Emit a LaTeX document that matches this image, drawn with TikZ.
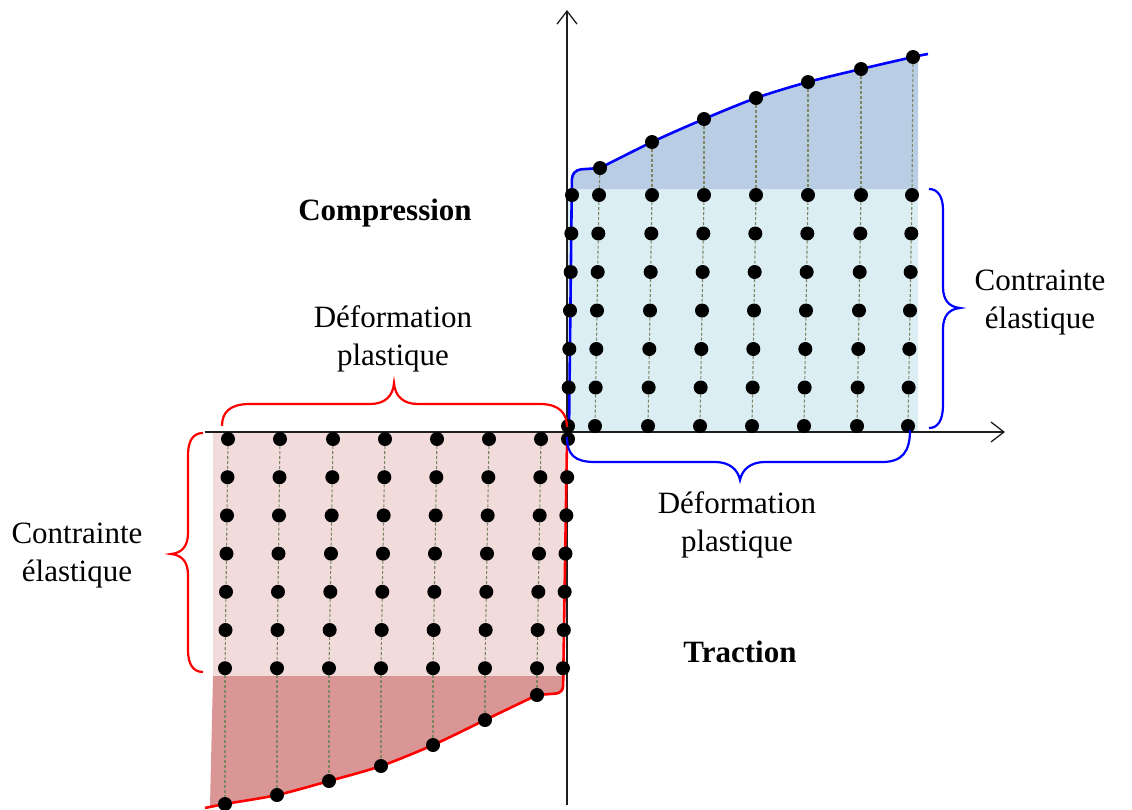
\documentclass[tikz,border=0pt]{standalone}
\usepackage{fontspec}
\setmainfont{Liberation Serif}
\usetikzlibrary{arrows.meta}
\definecolor{lightblue}{RGB}{219,238,243}
\definecolor{darkblue}{RGB}{185,205,229}
\definecolor{lightpink}{RGB}{242,220,219}
\definecolor{darkpink}{RGB}{217,150,148}
\definecolor{guidecol}{RGB}{125,135,100}
\definecolor{axiscol}{RGB}{30,30,30}
\tikzset{
  dot/.style={circle,fill=black,inner sep=0pt,minimum size=14pt},
  guide/.style={draw=guidecol,line width=1.1pt,dash pattern=on 3pt off 2pt},
  axis/.style={draw=axiscol,line width=1.3pt,-{Straight Barb[length=13pt,width=20pt,line width=1.3pt]}},
  bluecurve/.style={draw=blue,line width=2.6pt},
  redcurve/.style={draw=red,line width=2.6pt},
  bluebrace/.style={draw=blue,line width=2.2pt},
  redbrace/.style={draw=red,line width=2.2pt},
  lbl/.style={font=\fontsize{31}{38}\selectfont,align=center,inner sep=0pt},
  blbl/.style={font=\fontsize{31}{38}\selectfont\bfseries,align=center,inner sep=0pt},
}
\begin{document}
\begin{tikzpicture}[x=1pt,y=-1pt]
\useasboundingbox (0,0) rectangle (1132,809);
% ---- fills
\fill[lightblue] (567,188) rectangle (918,432);
\fill[darkblue] (572,189) -- (572,172) -- plot[smooth] coordinates {(600,168) (652,142) (704,119) (756,98) (808,82) (861,69) (918,56)} -- (918,189) -- cycle;
\fill[lightpink] (213,432) rectangle (565,676);
\fill[darkpink] (213,676) -- (564,676) -- (563,692) -- plot[smooth] coordinates {(537,695) (485,720) (433,745) (381,766) (329,781) (277,795) (225,804) (210,806)} -- cycle;
% ---- axes
\coordinate (ybot) at (567,805);
\coordinate (ytop) at (567,10);
\coordinate (xleft) at (205,432);
\coordinate (xright) at (1005,432);
\draw[axis] (ybot) -- (ytop);
\draw[axis] (xleft) -- (xright);
% ---- curves
\draw[bluecurve,rounded corners=9pt] (569,432) -- (572,170) -- (600,168);
\draw[bluecurve] plot[smooth] coordinates {(600,168) (652,142) (704,119) (756,98) (808,82) (861,69) (913,57) (928,54)};
\draw[redcurve,rounded corners=7pt] (567,440) -- (563,693) -- (537,695);
\draw[redcurve] plot[smooth] coordinates {(537,695) (485,720) (433,745) (381,766) (329,781) (277,795) (225,804) (205,808)};
% ---- right (compression) dots
\foreach \c/\xt/\xb in {1/572/568,2/599/595,3/652/648,4/704/700,5/756/752,6/808/804,7/861/857,8/912/908}{
  \foreach \r in {1,...,7}{
    \pgfmathsetmacro\yy{195+38.5*(\r-1)}
    \pgfmathsetmacro\xx{\xt+(\xb-\xt)*(\r-1)/6}
    \node[dot] (R-\c-\r) at (\xx,\yy) {};
  }
}
\foreach \c/\x/\y in {2/600/168,3/652/142,4/704/119,5/756/98,6/808/82,7/861/69,8/913/57}{
  \node[dot] (RC-\c) at (\x,\y) {};
}
\foreach \c in {2,...,8}{
  \draw[guide] (RC-\c) -- (R-\c-1);
  \foreach \r [evaluate=\r as \rn using int(\r+1)] in {1,...,6}{
    \draw[guide] (R-\c-\r) -- (R-\c-\rn);
  }
}
% ---- left (traction) dots
\foreach \c/\xt/\xb in {1/228/225,2/280/277,3/333/329,4/385/381,5/437/433,6/489/485,7/541/537,8/568/563}{
  \foreach \r in {1,...,7}{
    \pgfmathsetmacro\yy{439+38.2*(\r-1)}
    \pgfmathsetmacro\xx{\xt+(\xb-\xt)*(\r-1)/6}
    \node[dot] (L-\c-\r) at (\xx,\yy) {};
  }
}
\foreach \c/\x/\y in {1/225/804,2/277/795,3/329/781,4/381/766,5/433/745,6/485/720,7/537/695}{
  \node[dot] (LC-\c) at (\x,\y) {};
}
\foreach \c in {1,...,7}{
  \draw[guide] (L-\c-7) -- (LC-\c);
  \foreach \r [evaluate=\r as \rn using int(\r+1)] in {1,...,6}{
    \draw[guide] (L-\c-\r) -- (L-\c-\rn);
  }
}
% ---- braces
\draw[redbrace] (222,426) .. controls (222,412) and (230,404) .. (250,404) -- (370,404) .. controls (385,404) and (393,396) .. (394,383) .. controls (395,396) and (403,404) .. (418,404) -- (540,404) .. controls (560,404) and (567,414) .. (567,427);
\draw[redbrace] (203,433) .. controls (193,433) and (188,441) .. (188,455) -- (188,533) .. controls (188,546) and (182,553) .. (171,554) .. controls (182,555) and (188,562) .. (188,575) -- (188,650) .. controls (188,664) and (193,672) .. (203,672);
\draw[bluebrace] (929,189) .. controls (938,189) and (943,197) .. (943,210) -- (943,287) .. controls (943,300) and (949,307) .. (960,308) .. controls (949,309) and (943,316) .. (943,329) -- (943,405) .. controls (943,420) and (938,428) .. (929,428);
\draw[bluebrace] (567,437) .. controls (567,455) and (575,462) .. (595,462) -- (715,462) .. controls (730,462) and (738,470) .. (740,480) .. controls (742,470) and (750,462) .. (765,462) -- (882,462) .. controls (902,462) and (910,452) .. (910,430);
% ---- labels
\node[blbl] (comp) at (385,213) {Compression};
\node[blbl] (trac) at (740,652) {Traction};
\node[lbl] (defl) at (393,339) {Déformation\\plastique};
\node[lbl] (defr) at (737,525) {Déformation\\plastique};
\node[lbl] (cer) at (1040,303) {Contrainte\\élastique};
\node[lbl] (cel) at (77,556) {Contrainte\\élastique};
\end{tikzpicture}
\end{document}
